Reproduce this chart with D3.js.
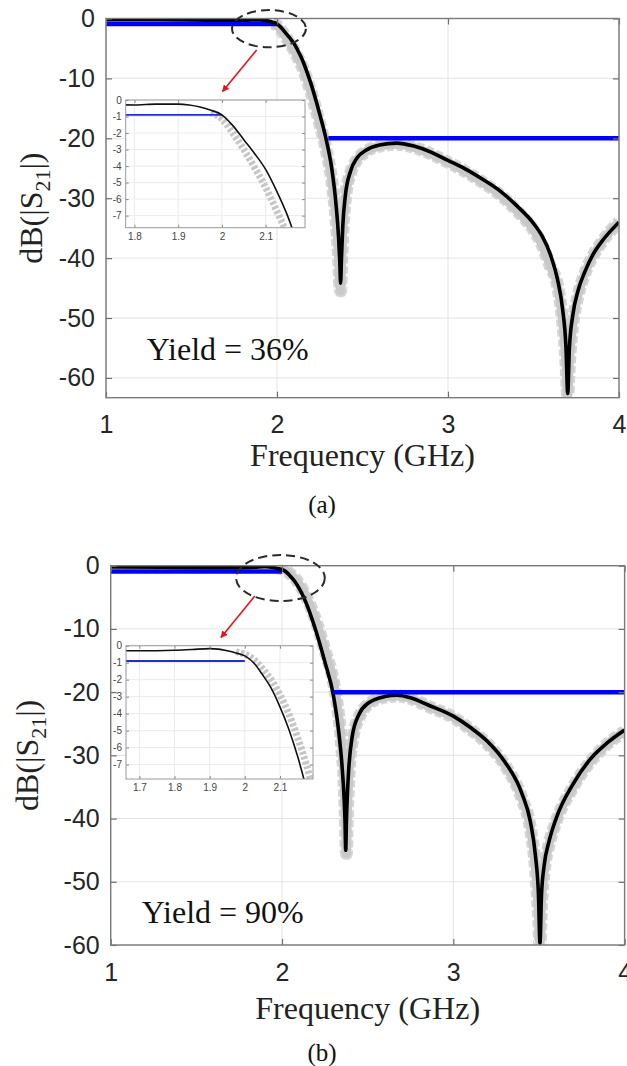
<!DOCTYPE html>
<html lang="en">
<head>
<meta charset="UTF-8">
<title>dB(|S21|) yield comparison</title>
<style>
  body { margin: 0; background: #fff; }
  svg { display: block; }
</style>
</head>
<body>
<script src="https://cdn.jsdelivr.net/npm/d3@7"></script>
<script>
// ---- data ----
var freqTicks = [1, 2, 3, 4];
var dbTicks = [0, -10, -20, -30, -40, -50, -60];
var insetDbTicks = [0, -1, -2, -3, -4, -5, -6, -7];
var insetFreqTicksA = [1.8, 1.9, 2, 2.1];
var insetFreqTicksB = [1.7, 1.8, 1.9, 2, 2.1];

// spec mask (blue)
var passFreq = [1, 2], passDb = [-0.9, -0.9];
var stopFreq = [2.3, 4], stopDb = [-20, -20];

// (a) yield 36%
var freqA = [1.0, 1.3, 1.6, 1.8, 1.85, 1.9, 1.925, 1.95, 1.975, 2.0, 2.025, 2.05, 2.075, 2.1, 2.125,
  2.15, 2.175, 2.2, 2.25, 2.29, 2.32, 2.345, 2.36, 2.367, 2.372, 2.377, 2.385, 2.4, 2.43, 2.47,
  2.52, 2.6, 2.7, 2.8, 2.9, 3.0, 3.1, 3.2, 3.3, 3.4, 3.5, 3.55, 3.6, 3.64, 3.67,
  3.69, 3.7, 3.71, 3.73, 3.76, 3.8, 3.85, 3.9, 3.95, 4.0];
var s21A = [-0.2, -0.22, -0.27, -0.3, -0.25, -0.25, -0.3, -0.42, -0.62, -0.9, -1.55, -2.4, -3.25, -4.2, -5.5,
  -7.0, -8.9, -11.0, -16.0, -20.5, -25.0, -31.0, -36.5, -40.5, -44.2, -40.0, -34.5, -29.5, -25.5, -23.2,
  -22.0, -21.1, -20.8, -21.3, -22.3, -23.7, -25.1, -26.8, -28.7, -31.2, -34.2, -36.3, -39.5, -43.5, -48.5,
  -55.0, -62.6, -55.0, -49.5, -45.5, -42.3, -39.3, -37.2, -35.5, -34.0];
var mcA = [-0.2, -0.22, -0.27, -0.3, -0.26, -0.28, -0.35, -0.5, -0.75, -1.15, -2.0, -3.0, -4.1, -5.3, -6.7,
  -8.2, -10.2, -12.4, -17.6, -22.2, -27.0, -33.5, -40.0, -44.5, -45.5, -41.5, -35.5, -30.0, -25.8, -23.5,
  -22.2, -21.3, -21.0, -21.5, -22.6, -24.0, -25.5, -27.3, -29.3, -32.0, -35.3, -37.8, -41.5, -44.5, -50.5,
  -57.5, -63.0, -57.5, -51.0, -46.3, -42.6, -39.5, -37.3, -35.5, -34.0];

// (b) yield 90%
var freqB = [1.0, 1.3, 1.6, 1.7, 1.8, 1.85, 1.9, 1.925, 1.95, 1.975, 2.0, 2.025, 2.05, 2.075, 2.1,
  2.125, 2.15, 2.175, 2.2, 2.25, 2.3, 2.33, 2.35, 2.362, 2.368, 2.372, 2.376, 2.382, 2.39, 2.41,
  2.45, 2.5, 2.6, 2.67, 2.75, 2.85, 3.0, 3.1, 3.2, 3.3, 3.4, 3.45, 3.48, 3.497, 3.506,
  3.515, 3.53, 3.56, 3.6, 3.7, 3.8, 3.9, 4.0];
var s21B = [-0.2, -0.25, -0.3, -0.3, -0.27, -0.22, -0.17, -0.2, -0.3, -0.43, -0.6, -1.0, -1.7, -2.5, -3.6,
  -4.9, -6.5, -8.4, -10.5, -15.2, -20.5, -26.0, -31.5, -36.5, -40.5, -45.0, -40.5, -36.0, -32.0, -27.0,
  -23.5, -21.8, -20.7, -20.5, -20.9, -22.0, -23.8, -25.6, -27.8, -31.0, -36.0, -40.5, -46.0, -52.0, -59.7,
  -52.0, -47.5, -43.5, -40.0, -34.5, -30.6, -28.0, -26.0];
var mcB = [-0.2, -0.25, -0.3, -0.3, -0.27, -0.22, -0.17, -0.19, -0.27, -0.36, -0.5, -0.8, -1.35, -2.0, -2.9,
  -4.0, -5.4, -7.0, -8.9, -13.3, -18.3, -23.5, -29.0, -34.0, -38.5, -42.0, -45.5, -39.0, -33.5, -27.8,
  -24.0, -22.0, -20.8, -20.6, -21.0, -22.2, -24.0, -25.9, -28.2, -31.5, -36.8, -41.5, -48.0, -55.0, -60.0,
  -53.5, -48.5, -44.0, -40.5, -35.0, -31.0, -28.2, -26.2];

// ---- layout ----
var panels = [
  { id: "a", box: { l: 106, r: 619, t: 18.5, b: 397.7 }, yMin: -63.3,
    freq: freqA, s21: s21A, mc: mcA, yieldLabel: "Yield = 36%", yieldAt: [146.7, 360],
    inset: { l: 125.7, r: 305, t: 100, b: 227.7, x: [1.78, 2.19], y: [-7.73, 0], ticks: insetFreqTicksA },
    ellipse: { f: 1.953, db: -1.7, rf: 0.216, rdb: 3.1 },
    arrow: [[256.7, 50], [222.5, 91.5]],
    xTitleY: 466, yTitleX: 42, caption: "(a)", captionY: 513 },
  { id: "b", box: { l: 110.7, r: 624.6, t: 565.7, b: 945 }, yMin: -60,
    freq: freqB, s21: s21B, mc: mcB, yieldLabel: "Yield = 90%", yieldAt: [141.7, 923.3],
    inset: { l: 126, r: 313, t: 645.7, b: 779, x: [1.662, 2.194], y: [-7.85, 0], ticks: insetFreqTicksB },
    ellipse: { f: 1.991, db: -1.95, rf: 0.259, rdb: 3.64 },
    arrow: [[254.8, 596], [221, 637.5]],
    xTitleY: 1019, yTitleX: 38, caption: "(b)", captionY: 1061 }
];

var W = 627, H = 1066;
var sans = "'Liberation Sans', Arial, sans-serif";
var serif = "'Liberation Serif', 'Times New Roman', serif";

var svg = d3.select("body").append("svg")
  .attr("width", W).attr("height", H);
svg.append("rect").attr("width", W).attr("height", H).attr("fill", "#fff");

var defs = svg.append("defs");
defs.append("marker")
  .attr("id", "redhead")
  .attr("viewBox", "0 0 10 10")
  .attr("refX", 9).attr("refY", 5)
  .attr("markerWidth", 7).attr("markerHeight", 7)
  .attr("markerUnits", "userSpaceOnUse")
  .attr("orient", "auto")
  .append("path").attr("d", "M0,0 L10,5 L0,10 z").attr("fill", "#e8141b");

function lineFor(x, y) {
  return d3.line()
    .x(function(d) { return x(d[0]); })
    .y(function(d) { return y(d[1]); })
    .curve(d3.curveMonotoneX);
}

function drawPanel(p) {
  var b = p.box;
  var x = d3.scaleLinear().domain([1, 4]).range([b.l, b.r]);
  var y = d3.scaleLinear().domain([p.yMin, 0]).range([b.b, b.t]);
  var g = svg.append("g").attr("class", "panel-" + p.id);

  defs.append("clipPath").attr("id", "clip-" + p.id)
    .append("rect").attr("x", b.l).attr("y", b.t - 1).attr("width", b.r - b.l).attr("height", b.b - b.t + 1);

  // grid
  g.append("g").selectAll("line").data(freqTicks).enter().append("line")
    .attr("x1", function(d) { return x(d); }).attr("x2", function(d) { return x(d); })
    .attr("y1", b.t).attr("y2", b.b)
    .attr("stroke", "#e3e3e3").attr("stroke-width", 1);
  g.append("g").selectAll("line").data(dbTicks).enter().append("line")
    .attr("y1", function(d) { return y(d); }).attr("y2", function(d) { return y(d); })
    .attr("x1", b.l).attr("x2", b.r)
    .attr("stroke", "#e3e3e3").attr("stroke-width", 1);

  var curve = p.freq.map(function(f, i) { return [f, p.s21[i]]; });
  var mc = p.freq.map(function(f, i) { return [f, p.mc[i]]; });
  var line = lineFor(x, y);

  var plot = g.append("g").attr("clip-path", "url(#clip-" + p.id + ")");
  plot.append("path").datum(mc.filter(function(d) { return d[0] >= 1.97; }))
    .attr("d", line).attr("fill", "none")
    .attr("stroke", "#d6d6d6").attr("stroke-width", 13).attr("stroke-dasharray", "7,3");
  plot.append("path").datum(mc.filter(function(d) { return d[0] >= 1.97; }))
    .attr("d", line).attr("fill", "none")
    .attr("stroke", "#c9c9c9").attr("stroke-width", 9);
  plot.append("path").datum(passFreq.map(function(f, i) { return [f, passDb[i]]; }))
    .attr("d", d3.line().x(function(d) { return x(d[0]); }).y(function(d) { return y(d[1]); }))
    .attr("stroke", "#0000ff").attr("stroke-width", 4.5);
  plot.append("path").datum(curve)
    .attr("d", line).attr("fill", "none")
    .attr("stroke", "#000").attr("stroke-width", 3.6);
  plot.append("path").datum(stopFreq.map(function(f, i) { return [f, stopDb[i]]; }))
    .attr("d", d3.line().x(function(d) { return x(d[0]); }).y(function(d) { return y(d[1]); }))
    .attr("stroke", "#0000ff").attr("stroke-width", 4.5);

  // axes, MATLAB style (ticks inside, box on)
  var axB = g.append("g").attr("transform", "translate(0," + b.b + ")")
    .call(d3.axisBottom(x).tickValues(freqTicks).tickSize(-6).tickSizeOuter(0).tickPadding(18)
      .tickFormat(function(d) { return String(d); }));
  var axT = g.append("g").attr("transform", "translate(0," + b.t + ")")
    .call(d3.axisTop(x).tickValues(freqTicks).tickSize(-6).tickSizeOuter(0).tickFormat(""));
  var axL = g.append("g").attr("transform", "translate(" + b.l + ",0)")
    .call(d3.axisLeft(y).tickValues(dbTicks).tickSize(-6).tickSizeOuter(0).tickPadding(11)
      .tickFormat(function(d) { return String(d); }));
  var axR = g.append("g").attr("transform", "translate(" + b.r + ",0)")
    .call(d3.axisRight(y).tickValues(dbTicks).tickSize(-6).tickSizeOuter(0).tickFormat(""));
  [axB, axT, axL, axR].forEach(function(a) {
    a.select(".domain").remove();
    a.selectAll(".tick line").attr("stroke", "#6e6e6e").attr("stroke-width", 1.2);
    a.selectAll("text").attr("font-family", sans).attr("font-size", 25).attr("fill", "#262626");
  });
  g.append("rect").attr("x", b.l).attr("y", b.t).attr("width", b.r - b.l).attr("height", b.b - b.t)
    .attr("fill", "none").attr("stroke", "#7a7a7a").attr("stroke-width", 1.4);

  // titles
  g.append("text").attr("x", (b.l + b.r) / 2).attr("y", p.xTitleY)
    .attr("text-anchor", "middle").attr("font-family", serif).attr("font-size", 32).attr("fill", "#222")
    .text("Frequency (GHz)");
  var yt = g.append("text")
    .attr("transform", "translate(" + p.yTitleX + "," + ((b.t + b.b) / 2) + ") rotate(-90)")
    .attr("text-anchor", "middle").attr("font-family", serif).attr("font-size", 32).attr("fill", "#222");
  yt.append("tspan").text("dB(|S");
  yt.append("tspan").attr("font-size", 22).attr("dy", 8).text("21");
  yt.append("tspan").attr("dy", -8).text("|)");

  g.append("text").attr("x", p.yieldAt[0]).attr("y", p.yieldAt[1])
    .attr("font-family", serif).attr("font-size", 32).attr("fill", "#111")
    .text(p.yieldLabel);

  g.append("text").attr("x", 322).attr("y", p.captionY).attr("text-anchor", "middle")
    .attr("font-family", serif).attr("font-size", 25).attr("fill", "#111").text(p.caption);

  // dashed ellipse around the band edge and the red arrow
  var e = p.ellipse;
  g.append("ellipse")
    .attr("cx", x(e.f)).attr("cy", y(e.db))
    .attr("rx", x(e.f + e.rf) - x(e.f)).attr("ry", y(e.db - e.rdb) - y(e.db))
    .attr("fill", "none").attr("stroke", "#2b2b2b").attr("stroke-width", 2)
    .attr("stroke-dasharray", "9,5");
  g.append("line")
    .attr("x1", p.arrow[0][0]).attr("y1", p.arrow[0][1])
    .attr("x2", p.arrow[1][0]).attr("y2", p.arrow[1][1])
    .attr("stroke", "#e8141b").attr("stroke-width", 1.6)
    .attr("marker-end", "url(#redhead)");

  drawInset(p, g);
}

function drawInset(p, parent) {
  var r = p.inset;
  var x = d3.scaleLinear().domain(r.x).range([r.l, r.r]);
  var y = d3.scaleLinear().domain(r.y).range([r.b, r.t]);
  var g = parent.append("g").attr("class", "inset");

  defs.append("clipPath").attr("id", "clipi-" + p.id)
    .append("rect").attr("x", r.l).attr("y", r.t).attr("width", r.r - r.l).attr("height", r.b - r.t);

  g.append("rect").attr("x", r.l).attr("y", r.t).attr("width", r.r - r.l).attr("height", r.b - r.t)
    .attr("fill", "#fff");
  g.append("g").selectAll("line").data(r.ticks).enter().append("line")
    .attr("x1", function(d) { return x(d); }).attr("x2", function(d) { return x(d); })
    .attr("y1", r.t).attr("y2", r.b).attr("stroke", "#ebebeb");
  g.append("g").selectAll("line").data(insetDbTicks).enter().append("line")
    .attr("y1", function(d) { return y(d); }).attr("y2", function(d) { return y(d); })
    .attr("x1", r.l).attr("x2", r.r).attr("stroke", "#ebebeb");

  var line = lineFor(x, y);
  var plot = g.append("g").attr("clip-path", "url(#clipi-" + p.id + ")");
  plot.append("path").datum(p.freq.map(function(f, i) { return [f, p.mc[i]]; })
      .filter(function(d) { return d[0] >= 1.97; }))
    .attr("d", line).attr("fill", "none")
    .attr("stroke", "#c6c6c6").attr("stroke-width", 7).attr("stroke-dasharray", "3,2");
  plot.append("path").datum(passFreq.map(function(f, i) { return [f, passDb[i]]; }))
    .attr("d", d3.line().x(function(d) { return x(d[0]); }).y(function(d) { return y(d[1]); }))
    .attr("stroke", "#1f2fd8").attr("stroke-width", 1.8);
  plot.append("path").datum(p.freq.map(function(f, i) { return [f, p.s21[i]]; }))
    .attr("d", line).attr("fill", "none")
    .attr("stroke", "#111").attr("stroke-width", 1.6);

  var axB = g.append("g").attr("transform", "translate(0," + r.b + ")")
    .call(d3.axisBottom(x).tickValues(r.ticks).tickSize(-3).tickSizeOuter(0).tickPadding(5)
      .tickFormat(function(d) { return String(d); }));
  var axL = g.append("g").attr("transform", "translate(" + r.l + ",0)")
    .call(d3.axisLeft(y).tickValues(insetDbTicks).tickSize(-3).tickSizeOuter(0).tickPadding(4)
      .tickFormat(function(d) { return String(d); }));
  var axT = g.append("g").attr("transform", "translate(0," + r.t + ")")
    .call(d3.axisTop(x).tickValues(r.ticks).tickSize(-3).tickSizeOuter(0).tickFormat(""));
  var axR = g.append("g").attr("transform", "translate(" + r.r + ",0)")
    .call(d3.axisRight(y).tickValues(insetDbTicks).tickSize(-3).tickSizeOuter(0).tickFormat(""));
  [axB, axL, axT, axR].forEach(function(a) {
    a.select(".domain").remove();
    a.selectAll(".tick line").attr("stroke", "#8a8a8a");
    a.selectAll("text").attr("font-family", sans).attr("font-size", 10).attr("fill", "#444");
  });
  g.append("rect").attr("x", r.l).attr("y", r.t).attr("width", r.r - r.l).attr("height", r.b - r.t)
    .attr("fill", "none").attr("stroke", "#9a9a9a").attr("stroke-width", 1);
}

panels.forEach(drawPanel);
</script>
</body>
</html>
